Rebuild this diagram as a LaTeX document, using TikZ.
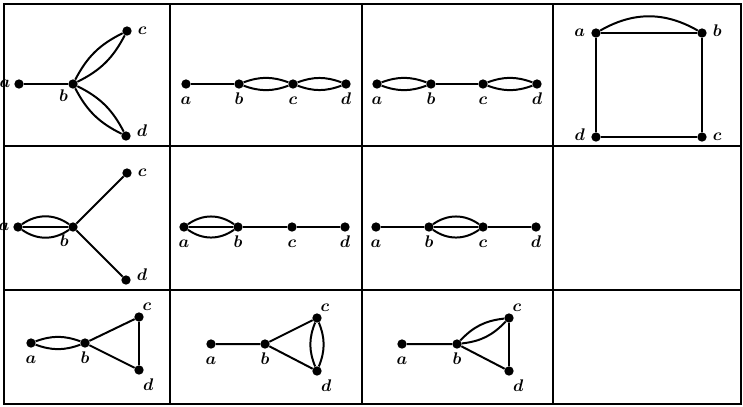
\documentclass[tikz,border=0pt]{standalone}
\usetikzlibrary{positioning}
\begin{document}
\begin{tikzpicture}[
    x=0.03cm, y=-0.03cm,
    % vertices and their letters
    vtx/.style={circle, fill=black, inner sep=0pt, minimum size=0.28cm},
    every label/.style={font=\boldmath\Large, inner sep=2pt, text height=1.2ex, text depth=0pt},
    label distance=6pt,
    side/.style={label distance=3pt},
    % lines
    edge/.style={line width=1.7pt},
    grid_line/.style={line width=1.3pt}
]
    \useasboundingbox (0,0) rectangle (743,406);

    % ==================== Table frame ====================
    \draw [grid_line] (4,4) rectangle (741,404);
    \draw [grid_line] (170,4) -- (170,404);
    \draw [grid_line] (362,4) -- (362,404);
    \draw [grid_line] (553,4) -- (553,404);
    \draw [grid_line] (4,146) -- (741,146);
    \draw [grid_line] (4,290) -- (741,290);

    % ==================== Row 1 ====================
    % Graph 1: a-b, double b-c, double b-d
    \node (a1) [vtx, label={[label distance=1pt]left:$a$}] at (19,84) {};
    \node (b1) [vtx, label={[label distance=4pt]-105:$b$}] at (73,84) {};
    \node (c1) [vtx, label={[side]right:$c$}] at (127,31) {};
    \node (d1) [vtx, label={[side, yshift=2pt]right:$d$}] at (126,136) {};
    \draw [edge] (a1) -- (b1);
    \draw [edge] (b1) to[bend left=18] (c1) (b1) to[bend right=18] (c1);
    \draw [edge] (b1) to[bend left=18] (d1) (b1) to[bend right=18] (d1);

    % Graph 2: a-b, double b-c, double c-d
    \node (a2) [vtx, label=below:$a$] at (186,84) {};
    \node (b2) [vtx, label=below:$b$] at (239,84) {};
    \node (c2) [vtx, label=below:$c$] at (293,84) {};
    \node (d2) [vtx, label=below:$d$] at (346,84) {};
    \draw [edge] (a2) -- (b2);
    \draw [edge] (b2) to[bend left=20] (c2) (b2) to[bend right=20] (c2);
    \draw [edge] (c2) to[bend left=20] (d2) (c2) to[bend right=20] (d2);

    % Graph 3: double a-b, b-c, double c-d
    \node (a3) [vtx, label=below:$a$] at (377,84) {};
    \node (b3) [vtx, label=below:$b$] at (431,84) {};
    \node (c3) [vtx, label=below:$c$] at (483,84) {};
    \node (d3) [vtx, label=below:$d$] at (537,84) {};
    \draw [edge] (a3) to[bend left=20] (b3) (a3) to[bend right=20] (b3);
    \draw [edge] (b3) -- (c3);
    \draw [edge] (c3) to[bend left=20] (d3) (c3) to[bend right=20] (d3);

    % Graph 4: square with a doubled top side
    \node (a4) [vtx, label={[side]left:$a$}] at (596,33) {};
    \node (b4) [vtx, label={[side]right:$b$}] at (702,33) {};
    \node (c4) [vtx, label={[side]right:$c$}] at (702,137) {};
    \node (d4) [vtx, label={[side]left:$d$}] at (596,137) {};
    \draw [edge] (a4) -- (b4) -- (c4) -- (d4) -- (a4);
    \draw [edge] (a4) to[bend left=30] (b4);

    % ==================== Row 2 ====================
    % Graph 5: triple a-b, b-c, b-d
    \node (a5) [vtx, label={[label distance=1pt]left:$a$}] at (18,227) {};
    \node (b5) [vtx, label={[label distance=5pt]-100:$b$}] at (73,227) {};
    \node (c5) [vtx, label={[side]right:$c$}] at (127,173) {};
    \node (d5) [vtx, label={[side, yshift=2pt]right:$d$}] at (126,280) {};
    \draw [edge] (a5) -- (b5);
    \draw [edge] (a5) to[bend left=35] (b5) (a5) to[bend right=35] (b5);
    \draw [edge] (b5) -- (c5);
    \draw [edge] (b5) -- (d5);

    % Graph 6: triple a-b, b-c, c-d
    \node (a6) [vtx, label=below:$a$] at (184,227) {};
    \node (b6) [vtx, label=below:$b$] at (238,227) {};
    \node (c6) [vtx, label=below:$c$] at (292,227) {};
    \node (d6) [vtx, label=below:$d$] at (345,227) {};
    \draw [edge] (a6) -- (b6) -- (c6) -- (d6);
    \draw [edge] (a6) to[bend left=35] (b6) (a6) to[bend right=35] (b6);

    % Graph 7: a-b, triple b-c, c-d
    \node (a7) [vtx, label=below:$a$] at (376,227) {};
    \node (b7) [vtx, label=below:$b$] at (429,227) {};
    \node (c7) [vtx, label=below:$c$] at (483,227) {};
    \node (d7) [vtx, label=below:$d$] at (536,227) {};
    \draw [edge] (a7) -- (b7) -- (c7) -- (d7);
    \draw [edge] (b7) to[bend left=35] (c7) (b7) to[bend right=35] (c7);

    % ==================== Row 3 ====================
    % Graph 8: double a-b, triangle b-c-d
    \node (a8) [vtx, label=below:$a$] at (31,343) {};
    \node (b8) [vtx, label=below:$b$] at (85,343) {};
    \node (c8) [vtx, label={[label distance=-1pt]75:$c$}] at (139,317) {};
    \node (d8) [vtx, label={-82:$d$}] at (139,370) {};
    \draw [edge] (a8) to[bend left=20] (b8) (a8) to[bend right=20] (b8);
    \draw [edge] (b8) -- (c8) -- (d8) -- (b8);

    % Graph 9: a-b, triangle b-c-d with double c-d
    \node (a9) [vtx, label=below:$a$] at (211,344) {};
    \node (b9) [vtx, label=below:$b$] at (265,344) {};
    \node (c9) [vtx, label={[label distance=-1pt]75:$c$}] at (317,318) {};
    \node (d9) [vtx, label={-82:$d$}] at (317,371) {};
    \draw [edge] (a9) -- (b9) -- (c9);
    \draw [edge] (b9) -- (d9);
    \draw [edge] (c9) to[bend left=22] (d9) (c9) to[bend right=22] (d9);

    % Graph 10: a-b, triangle b-c-d with double b-c
    \node (a10) [vtx, label=below:$a$] at (402,344) {};
    \node (b10) [vtx, label=below:$b$] at (457,344) {};
    \node (c10) [vtx, label={[label distance=-1pt]75:$c$}] at (509,318) {};
    \node (d10) [vtx, label={-82:$d$}] at (509,371) {};
    \draw [edge] (a10) -- (b10) -- (d10) -- (c10);
    \draw [edge] (b10) to[bend left=20] (c10) (b10) to[bend right=20] (c10);

\end{tikzpicture}
\end{document}
